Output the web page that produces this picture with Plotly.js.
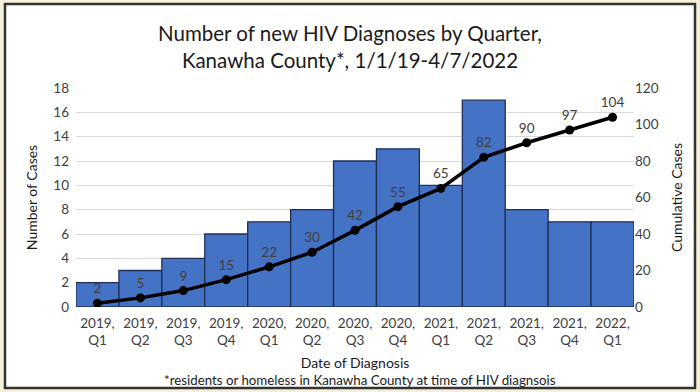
<!DOCTYPE html>
<html>
<head>
<meta charset="utf-8">
<script src="https://cdn.plot.ly/plotly-3.0.1.min.js"></script>
<style>
  html, body { margin:0; padding:0; background:#f4f0da; }
  #wrap { position:relative; width:700px; height:392px; }
  #chart { position:absolute; left:0; top:0; width:700px; height:392px; }
</style>
</head>
<body>
<div id="wrap"><div id="chart"></div></div>
<script>
const quarters = ["2019,<br>Q1","2019,<br>Q2","2019,<br>Q3","2019,<br>Q4","2020,<br>Q1","2020,<br>Q2","2020,<br>Q3","2020,<br>Q4","2021,<br>Q1","2021,<br>Q2","2021,<br>Q3","2021,<br>Q4","2022,<br>Q1"];
const newCases = [2,3,4,6,7,8,12,13,10,17,8,7,7];
const cumulativeCases = [2,5,9,15,22,30,42,55,65,82,90,97,104];

const FONT = "Lato, 'Open Sans', sans-serif";
const W = 700, H = 392;
const M = {l:76, r:66, t:88, b:85};
const pw = W - M.l - M.r, ph = H - M.t - M.b;
function px(x){ return (x - M.l)/pw; }
function py(y){ return (H - M.b - y)/ph; }

const traces = [
  {
    type:'bar', x:quarters, y:newCases, yaxis:'y',
    marker:{color:'#4472c4', line:{color:'#1f2f5a', width:1.3}},
    hoverinfo:'skip', showlegend:false
  },
  {
    type:'scatter', mode:'lines+markers+text', x:quarters, y:cumulativeCases, yaxis:'y2',
    line:{color:'#000000', width:3.5},
    marker:{color:'#000000', size:9},
    text:cumulativeCases.map(String), textposition:'top center',
    textfont:{family:FONT, size:13.5, color:'#404040'},
    showlegend:false
  }
];

const layout = {
  width:W, height:H,
  margin:M,
  paper_bgcolor:'rgba(0,0,0,0)',
  plot_bgcolor:'#ffffff',
  font:{family:FONT, color:'#404040'},
  bargap:0,
  title:{
    text:"Number of new HIV Diagnoses by Quarter,<br>Kanawha County*, 1/1/19-4/7/2022",
    font:{family:FONT, size:20.5, color:'#1a1a1a'},
    x:0.5, xanchor:'center', y:0.895, yanchor:'top'
  },
  xaxis:{
    type:'category', automargin:false, range:[-0.5, quarters.length-0.5],
    tickfont:{size:13.5, color:'#404040'},
    ticklabelstandoff:6,
    showgrid:false, showline:false, zeroline:false, ticks:'',
    title:{text:'Date of Diagnosis', font:{size:14, color:'#1a1a1a'}, standoff:11}
  },
  yaxis:{
    range:[0,18], dtick:2, automargin:false, tickfont:{size:13.5, color:'#404040'},
    ticklabelstandoff:6,
    gridcolor:'#d9d9d9', gridwidth:1, zeroline:false, showline:false,
    title:{text:'Number of Cases', font:{size:14, color:'#1a1a1a'}, standoff:12}
  },
  yaxis2:{
    overlaying:'y', side:'right', range:[0,120], dtick:20, automargin:false,
    tickfont:{size:13.5, color:'#404040'}, showgrid:false, zeroline:false, showline:false,
    title:{text:'Cumulative Cases', font:{size:14, color:'#1a1a1a'}, standoff:14}
  },
  shapes:[
    {type:'rect', xref:'paper', yref:'paper',
     x0:-M.l/pw, x1:1+M.r/pw, y0:-M.b/ph, y1:1+M.t/ph,
     fillcolor:'#f4f0da', line:{width:0}, layer:'below'},
    {type:'rect', xref:'paper', yref:'paper',
     x0:px(5), x1:px(695), y0:py(388), y1:py(4),
     fillcolor:'#ffffff', line:{color:'#333333', width:2.5}, layer:'below'}
  ],
  annotations:[
    {text:'*residents or homeless in Kanawha County at time of HIV diagnsois',
     xref:'paper', yref:'paper', x:px(360), y:py(380), xanchor:'center', yanchor:'middle',
     showarrow:false, font:{family:FONT, size:13.3, color:'#1a1a1a'}}
  ]
};

Plotly.newPlot('chart', traces, layout, {displayModeBar:false, staticPlot:true});
</script>
</body>
</html>
